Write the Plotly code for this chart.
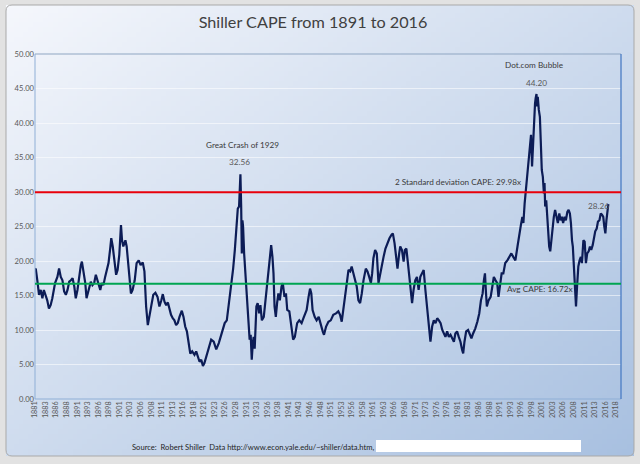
import base64
import struct
import zlib
import plotly.graph_objects as go

# ---------------- data ----------------
years = [
    1881.0, 1881.2, 1881.55, 1881.95, 1882.35, 1882.75, 1883.1, 1883.5, 1883.9, 1884.3,
    1884.7, 1885.1, 1885.75, 1886.3, 1886.7, 1887.1, 1887.5, 1887.9, 1888.3, 1888.7,
    1889.1, 1889.5, 1889.9, 1890.3, 1890.65, 1891.05, 1891.45, 1891.85, 1892.1, 1892.5,
    1892.9, 1893.2, 1893.7, 1894.2, 1894.6, 1895.0, 1895.4, 1895.8, 1896.2, 1896.45,
    1896.8, 1897.2, 1897.6, 1898.0, 1898.4, 1898.8, 1899.05, 1899.4, 1899.75, 1900.2,
    1900.55, 1900.95, 1901.35, 1901.6, 1901.9, 1902.4, 1902.7, 1903.0, 1903.3, 1903.7,
    1904.1, 1904.6, 1905.05, 1905.55, 1906.0, 1906.5, 1906.9, 1907.3, 1907.7, 1908.1,
    1908.55, 1909.0, 1909.5, 1910.0, 1910.45, 1910.9, 1911.25, 1911.65, 1912.05, 1912.45,
    1912.8, 1913.2, 1913.6, 1914.0, 1914.4, 1914.8, 1915.2, 1915.75, 1916.15, 1916.55,
    1916.95, 1917.35, 1917.75, 1918.2, 1918.75, 1919.15, 1919.55, 1919.95, 1920.35, 1920.75,
    1921.1, 1921.7, 1922.3, 1922.7, 1923.3, 1923.9, 1924.5, 1925.2, 1925.9, 1926.4,
    1927.1, 1927.55, 1927.9, 1928.3, 1928.7, 1929.0, 1929.3, 1929.5, 1929.62, 1929.8,
    1929.95, 1930.1, 1930.25, 1930.5, 1930.8, 1931.0, 1931.4, 1931.65, 1931.8, 1932.05,
    1932.3, 1932.55, 1932.75, 1933.0, 1933.4, 1933.7, 1934.05, 1934.35, 1934.7, 1935.15,
    1935.55, 1935.95, 1936.35, 1936.65, 1936.9, 1937.2, 1937.45, 1937.7, 1938.0, 1938.3,
    1938.6, 1938.95, 1939.35, 1939.65, 1940.05, 1940.4, 1940.7, 1941.2, 1941.65, 1942.1,
    1942.5, 1943.05, 1943.55, 1944.1, 1944.65, 1945.3, 1945.75, 1946.1, 1946.4, 1946.7,
    1947.2, 1947.65, 1948.15, 1948.6, 1949.1, 1949.4, 1949.9, 1950.45, 1951.0, 1951.6,
    1952.25, 1952.8, 1953.2, 1953.6, 1953.95, 1954.4, 1954.8, 1955.2, 1955.6, 1955.95,
    1956.35, 1956.75, 1957.15, 1957.55, 1957.95, 1958.35, 1958.75, 1959.3, 1959.7, 1960.1,
    1960.5, 1960.8, 1961.1, 1961.5, 1961.9, 1962.3, 1962.7, 1963.1, 1963.5, 1963.95,
    1964.45, 1964.9, 1965.4, 1965.7, 1966.1, 1966.5, 1966.8, 1967.2, 1967.45, 1967.85,
    1968.25, 1968.55, 1968.9, 1969.2, 1969.5, 1969.85, 1970.25, 1970.6, 1971.0, 1971.4,
    1971.8, 1972.2, 1972.6, 1973.0, 1973.4, 1973.8, 1974.2, 1974.6, 1975.0, 1975.4,
    1975.8, 1976.2, 1976.6, 1977.0, 1977.4, 1977.75, 1978.15, 1978.55, 1978.95, 1979.35,
    1979.75, 1980.15, 1980.5, 1980.9, 1981.3, 1981.7, 1982.1, 1982.35, 1982.65, 1983.05,
    1983.5, 1983.9, 1984.3, 1984.7, 1985.2, 1985.7, 1986.15, 1986.55, 1986.95, 1987.25,
    1987.5, 1987.75, 1987.95, 1988.35, 1988.85, 1989.25, 1989.6, 1990.0, 1990.4, 1990.7,
    1991.05, 1991.45, 1991.85, 1992.3, 1992.8, 1993.25, 1993.75, 1994.2, 1994.7, 1995.2,
    1995.6, 1996.0, 1996.35, 1996.6, 1996.9, 1997.25, 1997.55, 1997.85, 1998.2, 1998.4,
    1998.65, 1998.9, 1999.1, 1999.35, 1999.5, 1999.7, 1999.85, 2000.0, 2000.25, 2000.5,
    2000.7, 2000.95, 2001.2, 2001.45, 2001.6, 2001.75, 2002.0, 2002.2, 2002.45, 2002.7,
    2002.95, 2003.2, 2003.5, 2003.8, 2004.1, 2004.45, 2004.75, 2005.1, 2005.4, 2005.7,
    2006.0, 2006.35, 2006.65, 2007.0, 2007.3, 2007.6, 2007.85, 2008.1, 2008.3, 2008.55,
    2008.8, 2009.05, 2009.3, 2009.6, 2009.9, 2010.2, 2010.45, 2010.8, 2011.1, 2011.4,
    2011.7, 2012.05, 2012.35, 2012.65, 2013.0, 2013.3, 2013.6, 2013.95, 2014.25, 2014.6,
    2014.9, 2015.2, 2015.5, 2015.75, 2016.0, 2016.25, 2016.5, 2016.7,
]

cape = [
    18.9, 18.8, 17.2, 15.1, 15.8, 14.6, 15.8, 15.1, 14.3, 13.1,
    13.6, 14.6, 16.8, 17.7, 18.9, 17.7, 17.2, 15.6, 15.1, 15.8,
    17.0, 17.2, 17.5, 16.3, 14.6, 15.8, 17.7, 19.4, 19.9, 18.5,
    16.8, 14.6, 16.0, 17.0, 16.5, 16.8, 18.0, 17.0, 16.3, 15.8,
    16.8, 16.5, 17.7, 18.9, 19.7, 21.8, 23.3, 22.1, 20.1, 18.0,
    18.7, 20.9, 25.2, 23.0, 22.1, 23.0, 22.1, 20.1, 17.5, 15.3,
    15.8, 17.2, 19.7, 20.1, 19.4, 19.8, 18.5, 13.4, 10.7, 12.4,
    13.6, 15.1, 15.4, 14.8, 13.4, 14.3, 15.2, 14.1, 13.6, 14.0,
    13.1, 12.2, 11.7, 11.4, 10.7, 11.0, 11.9, 12.8, 11.9, 10.5,
    9.8, 8.1, 6.6, 6.9, 6.4, 6.9, 6.1, 5.4, 5.7, 4.8,
    5.2, 6.4, 7.8, 8.6, 8.3, 7.2, 8.1, 9.5, 11.0, 11.4,
    14.8, 17.2, 18.9, 21.6, 25.0, 27.6, 27.9, 30.5, 32.56, 27.9,
    21.1, 25.9, 25.0, 21.1, 18.2, 15.3, 12.9, 10.5, 8.6, 9.3,
    5.7, 8.1, 9.0, 7.3, 13.4, 13.9, 12.4, 13.6, 11.4, 11.9,
    14.3, 17.2, 19.2, 21.6, 22.3, 20.6, 18.2, 13.4, 11.9, 13.9,
    15.3, 14.3, 16.3, 16.8, 14.8, 15.3, 12.9, 12.7, 10.5, 8.6,
    9.0, 11.0, 11.4, 11.0, 11.9, 12.9, 14.8, 16.0, 15.3, 12.9,
    11.9, 11.4, 11.9, 10.7, 9.8, 9.3, 10.5, 11.2, 11.4, 12.2,
    12.4, 12.7, 12.2, 11.2, 13.1, 14.8, 16.8, 18.7, 18.5, 19.2,
    18.2, 17.2, 16.3, 14.3, 13.9, 15.3, 17.2, 18.9, 18.5, 17.7,
    16.8, 18.2, 20.4, 21.6, 21.1, 16.8, 18.2, 19.7, 20.6, 21.8,
    22.6, 23.3, 23.8, 24.0, 22.6, 20.1, 18.9, 21.1, 22.1, 21.6,
    19.9, 21.6, 21.8, 20.1, 18.2, 15.8, 13.9, 15.8, 17.2, 17.7,
    15.8, 17.7, 18.2, 18.7, 15.8, 13.4, 11.4, 8.3, 10.5, 11.4,
    11.0, 11.7, 11.4, 11.0, 10.0, 9.5, 9.0, 9.8, 9.0, 9.3,
    8.8, 8.3, 9.5, 9.8, 9.0, 8.3, 7.1, 6.6, 8.3, 9.8,
    10.0, 9.5, 8.8, 9.5, 10.2, 11.2, 12.4, 14.3, 15.3, 17.2,
    18.2, 15.3, 13.4, 14.3, 14.8, 16.3, 17.7, 17.2, 16.8, 14.8,
    16.3, 18.2, 18.2, 19.7, 20.1, 20.6, 21.1, 20.6, 20.1, 22.1,
    24.0, 25.2, 26.4, 25.5, 28.4, 30.8, 33.2, 34.6, 37.1, 38.3,
    33.7, 38.0, 41.2, 42.8, 43.6, 44.2, 42.4, 43.8, 41.9, 40.9,
    37.5, 33.2, 32.2, 29.8, 31.3, 27.9, 28.8, 26.9, 23.5, 22.1,
    21.4, 23.0, 25.0, 26.4, 27.4, 26.4, 25.5, 26.9, 25.9, 26.4,
    25.5, 26.4, 25.9, 27.1, 27.4, 26.9, 25.5, 23.0, 22.1, 19.2,
    16.3, 13.4, 16.3, 19.2, 20.1, 20.6, 19.7, 23.0, 22.8, 19.7,
    21.1, 21.4, 22.1, 21.6, 22.3, 23.3, 24.3, 24.7, 25.7, 25.9,
    26.9, 26.7, 26.4, 25.0, 24.0, 25.9, 26.9, 28.26,
]

avg_cape = 16.72
two_sd_cape = 29.98

tick_labels = [
    "1881", "1883", "1886", "1888", "1891", "1893", "1896", "1898", "1901", "1903",
    "1906", "1908", "1911", "1913", "1916", "1918", "1921", "1923", "1926", "1928",
    "1931", "1933", "1936", "1938", "1941", "1943", "1946", "1948", "1951", "1953",
    "1956", "1958", "1961", "1963", "1966", "1968", "1971", "1973", "1976", "1978",
    "1981", "1983", "1986", "1988", "1991", "1993", "1996", "1998", "2001", "2003",
    "2006", "2008", "2011", "2013", "2016", "2018",
]
# category axis labelled every 30 months starting January 1881
tick_positions = [1881 + 2.5 * i for i in range(len(tick_labels))]

crash_peak = 32.56
bubble_peak = 44.20
latest_value = 28.26


# ---------------- background gradient as an inline PNG ----------------
def gradient_png(w, h, c0, c1):
    raw = bytearray()
    for j in range(h):
        raw.append(0)
        for i in range(w):
            t = 0.5 * (i / (w - 1) + j / (h - 1))
            for k in range(3):
                raw.append(int(round(c0[k] + (c1[k] - c0[k]) * t)))

    def chunk(tag, data):
        c = struct.pack(">I", len(data)) + tag + data
        return c + struct.pack(">I", zlib.crc32(tag + data) & 0xFFFFFFFF)

    png = (b"\x89PNG\r\n\x1a\n"
           + chunk(b"IHDR", struct.pack(">IIBBBBB", w, h, 8, 2, 0, 0, 0))
           + chunk(b"IDAT", zlib.compress(bytes(raw)))
           + chunk(b"IEND", b""))
    return "data:image/png;base64," + base64.b64encode(png).decode()


bg_src = gradient_png(128, 92, (245, 247, 252), (168, 192, 224))

# ---------------- geometry helpers (pixel -> paper) ----------------
W, H = 640, 464
ML, MR, MT, MB = 35, 19, 54, 65
PW, PH = W - ML - MR, H - MT - MB


def px(x):
    return (x - ML) / PW


def py(y):
    return (H - MB - y) / PH


FONT = "Lato"

fig = go.Figure()

fig.add_trace(go.Scatter(
    x=years, y=cape, mode="lines",
    line=dict(color="#0c1c56", width=2.2),
    hoverinfo="skip", showlegend=False,
))

# frame background
fx0, fx1, fy0, fy1 = px(6), px(634), py(456), py(5)
fig.add_layout_image(dict(
    source=bg_src, xref="paper", yref="paper",
    x=fx0, y=fy1, sizex=fx1 - fx0, sizey=fy1 - fy0,
    xanchor="left", yanchor="top", sizing="stretch", layer="below",
))

rx, ry = 6 / PW, 6 / PH
frame_path = (
    f"M {fx0+rx},{fy1} L {fx1-rx},{fy1} Q {fx1},{fy1} {fx1},{fy1-ry} "
    f"L {fx1},{fy0+ry} Q {fx1},{fy0} {fx1-rx},{fy0} "
    f"L {fx0+rx},{fy0} Q {fx0},{fy0} {fx0},{fy0+ry} "
    f"L {fx0},{fy1-ry} Q {fx0},{fy1} {fx0+rx},{fy1} Z"
)

shapes = [
    dict(type="path", path=frame_path, xref="paper", yref="paper",
         line=dict(color="#a9a9a9", width=1), layer="below"),
    # plot area border
    dict(type="line", xref="paper", yref="paper", x0=0, x1=1, y0=1, y1=1,
         line=dict(color="#8fa6c2", width=1)),
    dict(type="line", xref="paper", yref="paper", x0=0, x1=0, y0=0, y1=1,
         line=dict(color="#8fafd6", width=1)),
    dict(type="line", xref="paper", yref="paper", x0=0, x1=1, y0=0, y1=0,
         line=dict(color="#8fafd6", width=1)),
    dict(type="line", xref="paper", yref="paper", x0=1, x1=1, y0=0, y1=1,
         line=dict(color="#4a7cc4", width=1.3)),
    # reference lines
    dict(type="line", xref="paper", yref="y", x0=0, x1=1,
         y0=two_sd_cape, y1=two_sd_cape, line=dict(color="#e8000b", width=2)),
    dict(type="line", xref="paper", yref="y", x0=0, x1=1,
         y0=avg_cape, y1=avg_cape, line=dict(color="#00a551", width=2)),
    # white box after the source text
    dict(type="rect", xref="paper", yref="paper",
         x0=px(376), x1=px(581), y0=py(452), y1=py(440),
         fillcolor="white", line=dict(width=0)),
]

ann_font = dict(family=FONT, size=8.2, color="#3a3a3a")
num_font = dict(family=FONT, size=8.2, color="#595959")

annotations = [
    dict(x=1930.2, y=36.8, text="Great Crash of 1929", showarrow=False, font=ann_font,
         xanchor="center", yanchor="middle"),
    dict(x=1929.3, y=34.3, text=f"{crash_peak:.2f}", showarrow=False, font=num_font,
         xanchor="center", yanchor="middle"),
    dict(x=1999.05, y=48.4, text="Dot.com Bubble", showarrow=False, font=ann_font,
         xanchor="center", yanchor="middle"),
    dict(x=1999.8, y=45.8, text=f"{bubble_peak:.2f}", showarrow=False, font=num_font,
         xanchor="center", yanchor="middle"),
    dict(x=1996.4, y=31.45, text=f"2 Standard deviation CAPE: {two_sd_cape:.2f}x",
         xanchor="right", yanchor="middle", showarrow=False, font=ann_font),
    dict(x=1992.2, y=15.9, text=f"Avg CAPE: {avg_cape:.2f}x",
         xanchor="left", yanchor="middle", showarrow=False, font=ann_font),
    dict(x=2014.3, y=28.0, text=f"{latest_value:.2f}", showarrow=False, font=num_font,
         xanchor="center", yanchor="middle"),
    dict(x=px(130), y=py(447), xref="paper", yref="paper", xanchor="left",
         yanchor="middle",
         text="Source:  Robert Shiller  Data http://www.econ.yale.edu/~shiller/data.htm,",
         showarrow=False, font=dict(family=FONT, size=7.6, color="#1f1f1f")),
]

fig.update_layout(
    width=W, height=H,
    margin=dict(l=ML, r=MR, t=MT, b=MB),
    paper_bgcolor="#e2e2e2",
    plot_bgcolor="rgba(0,0,0,0)",
    title=dict(text="Shiller CAPE from 1891 to 2016", xref="container",
               x=313 / W, xanchor="center",
               yref="container", y=1 - 22 / H, yanchor="middle",
               font=dict(family=FONT, size=16.2, color="#404040")),
    xaxis=dict(range=[1881, 2019.7], tickmode="array", tickvals=tick_positions,
               ticktext=tick_labels, tickangle=-90, showgrid=False, zeroline=False,
               showline=False, ticks="", automargin=False,
               tickfont=dict(family=FONT, size=7.2, color="#595959")),
    yaxis=dict(range=[0, 50], tickmode="linear", tick0=0, dtick=5, tickformat=".2f",
               showgrid=True, gridcolor="rgba(255,255,255,0.55)", gridwidth=1,
               zeroline=False, showline=False, ticks="", automargin=False,
               tickfont=dict(family=FONT, size=7.6, color="#595959")),
    shapes=shapes,
    annotations=annotations,
    showlegend=False,
)

fig.write_html(
    "out.html",
    config={"displayModeBar": False},
    post_script="document.body.style.margin='0px';document.body.style.overflow='hidden';",
)
